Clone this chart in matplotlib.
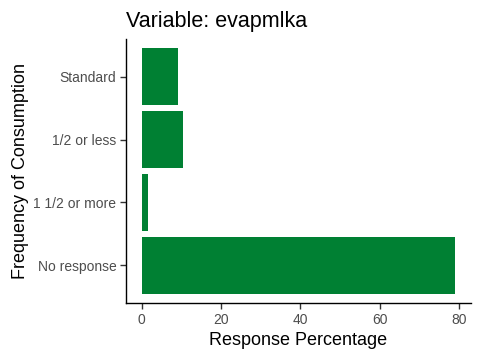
import numpy as np
import matplotlib
matplotlib.use("Agg")
import matplotlib.pyplot as plt

plt.rcParams['font.family'] = ['Liberation Sans', 'DejaVu Sans']

# data
categories = ["No response", "1 1/2 or more", "1/2 or less", "Standard"]
percentages = [79.0, 1.5, 10.35, 9.1]
x_ticks = [0, 20, 40, 60, 80]

bar_color = "#008033"
tick_color = "#4D4D4D"

fig = plt.figure(figsize=(4.8, 3.6), dpi=100)
ax = fig.add_axes([126 / 480, 1 - 303 / 360, (470.7 - 126) / 480, (303 - 39) / 360])

pos = np.arange(len(categories))
ax.barh(pos, percentages, height=0.9, color=bar_color)

ax.set_yticks(pos)
ax.set_yticklabels(categories)
ax.set_xticks(x_ticks)
ax.set_xlim(-0.05 * max(percentages), 1.05 * max(percentages))
ax.set_ylim(-0.6, len(categories) - 0.4)

for side in ["top", "right"]:
    ax.spines[side].set_visible(False)
for side in ["left", "bottom"]:
    ax.spines[side].set_linewidth(1.0)
    ax.spines[side].set_color("black")

ax.tick_params(axis="both", colors="#333333", labelcolor=tick_color,
               labelsize=10, length=4, width=1.0, pad=3)

ax.set_xlabel("Response Percentage", fontsize=13, color="black", labelpad=4)
ax.set_ylabel("Frequency of Consumption", fontsize=13, color="black", labelpad=3)
ax.set_title("Variable: evapmlka", fontsize=15.5, loc="left", pad=9)

fig.savefig("out.png", dpi=100)
